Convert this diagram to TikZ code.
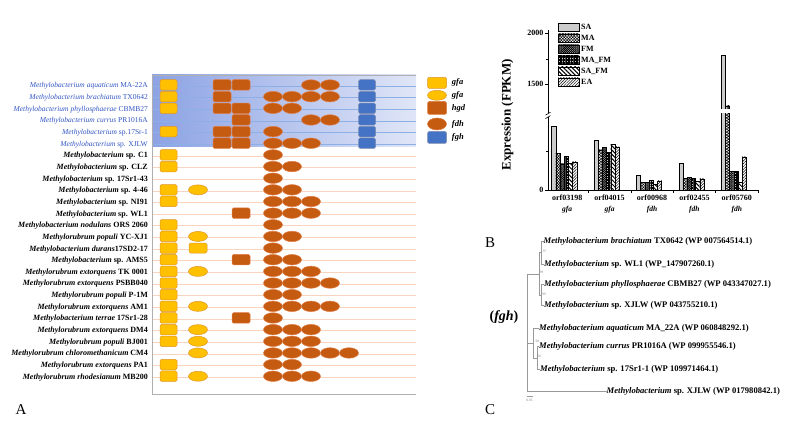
\documentclass[tikz,border=0pt]{standalone}
\usepackage{fontspec}
\setmainfont{Liberation Serif}
\usetikzlibrary{shapes.geometric,patterns.meta,positioning}

\definecolor{gfaYellow}{RGB}{255,192,0}
\definecolor{gfaEdge}{RGB}{222,150,40}
\definecolor{hgdBrown}{RGB}{197,90,17}
\definecolor{brownEdge}{RGB}{225,125,70}
\definecolor{fghBlue}{RGB}{68,114,196}
\definecolor{fghEdge}{RGB}{125,140,175}
\definecolor{labelBlue}{RGB}{50,85,195}
\definecolor{bandLeft}{RGB}{140,162,228}
\definecolor{bandRight}{RGB}{224,230,247}
\definecolor{rowBlue}{RGB}{140,175,230}
\definecolor{rowOrange}{RGB}{248,212,190}
\definecolor{frameGray}{RGB}{175,175,175}

\newcommand{\gn}[1]{\textit{#1}}

\begin{document}
\begin{tikzpicture}[x=1pt,y=-1pt,
    gene/.style={draw, line width=0.5pt, inner sep=0pt, minimum width=17pt, minimum height=10.5pt},
    gfabox/.style={gene, rectangle, rounded corners=1.5pt, fill=gfaYellow, draw=gfaEdge},
    gfaoval/.style={gene, ellipse, minimum width=19pt, minimum height=10pt, fill=gfaYellow, draw=gfaEdge},
    hgdbox/.style={gene, rectangle, rounded corners=1.5pt, minimum width=18pt, fill=hgdBrown, draw=brownEdge},
    fdhoval/.style={gene, ellipse, minimum width=19pt, fill=hgdBrown, draw=brownEdge},
    fghbox/.style={gene, rectangle, rounded corners=1.5pt, fill=fghBlue, draw=fghEdge},
    strainblue/.style={anchor=east, inner sep=0pt, text=labelBlue, font=\fontsize{7.5}{9}\selectfont},
    strainblack/.style={anchor=east, inner sep=0pt, font=\bfseries\fontsize{8}{9}\selectfont},
    keytext/.style={inner sep=0pt, font=\bfseries\itshape\fontsize{8.5}{10}\selectfont},
    panel/.style={inner sep=0pt, font=\fontsize{15}{17}\selectfont},
    bar/.style={draw, line width=0.4pt},
    barSA/.style={bar, fill=gray!40},
    barMA/.style={bar, preaction={fill=white}, pattern={Hatch[angle=45,distance=2pt,line width=0.5pt]}},
    barFM/.style={bar, preaction={fill=gray!55}, pattern={Hatch[angle=45,distance=1.5pt,line width=0.5pt]}},
    barMAFM/.style={bar, preaction={fill=gray!45}, pattern={Hatch[angle=0,distance=1.6pt,line width=0.4pt]}},
    barSAFM/.style={bar, preaction={fill=white}, pattern={Lines[angle=-45,distance=3pt,line width=1pt]}},
    barEA/.style={bar, preaction={fill=white}, pattern={Lines[angle=45,distance=2pt,line width=0.5pt]}},
    chart/.style={inner sep=0pt, font=\bfseries\fontsize{8}{9}\selectfont},
    leaf/.style={anchor=west, inner sep=0pt, font=\bfseries\fontsize{8.6}{10}\selectfont},
    boot/.style={inner sep=0pt, text=gray, font=\fontsize{3.5}{4}\selectfont},
    branch/.style={draw=gray!80, line width=0.5pt}]
  \useasboundingbox (0,0) rectangle (796,446);

  % A: gene organisation
  \shade[left color=bandLeft, right color=bandRight] (152,75) rectangle (416,147);
  \foreach \r in {1,...,26} {
    \pgfmathsetmacro\ry{86+11.65*(\r-1)}
    \ifnum\r<7 \def\lc{rowBlue}\else\def\lc{rowOrange}\fi
    \draw[\lc, line width=0.6pt] (152,\ry) -- (416,\ry);
  }
  \draw[frameGray, line width=0.5pt] (152,75) -- (416,75);
  \draw[frameGray, line width=1pt] (152,75) -- (152,395) -- (416,395);

  \foreach \r/\txt in {1/{\gn{Methylobacterium aquaticum} MA-22A},
      2/{\gn{Methylobacterium brachiatum} TX0642},
      3/{\gn{Methylobacterium phyllosphaerae} CBMB27},
      4/{\gn{Methylobacterium currus} PR1016A},
      5/{\gn{Methylobacterium} sp.17Sr-1},
      6/{\gn{Methylobacterium} sp. XJLW}}
    \node[strainblue] (lbl\r) at (148,{86+11.65*(\r-1)}) {\txt};
  \foreach \r/\txt in {7/{\gn{Methylobacterium} sp. C1},
      8/{\gn{Methylobacterium} sp. CLZ},
      9/{\gn{Methylobacterium} sp. 17Sr1-43},
      10/{\gn{Methylobacterium} sp. 4-46},
      11/{\gn{Methylobacterium} sp. NI91},
      12/{\gn{Methylobacterium} sp. WL1},
      13/{\gn{Methylobacterium nodulans} ORS 2060},
      14/{\gn{Methylorubrum populi} YC-XJ1},
      15/{\gn{Methylobacterium durans}17SD2-17},
      16/{\gn{Methylobacterium} sp. AMS5},
      17/{\gn{Methylorubrum extorquens} TK 0001},
      18/{\gn{Methylorubrum extorquens} PSBB040},
      19/{\gn{Methylorubrum populi} P-1M},
      20/{\gn{Methylorubrum extorquens} AM1},
      21/{\gn{Methylobacterium terrae} 17Sr1-28},
      22/{\gn{Methylorubrum extorquens} DM4},
      23/{\gn{Methylorubrum populi} BJ001},
      24/{\gn{Methylorubrum chloromethanicum} CM4},
      25/{\gn{Methylorubrum extorquens} PA1},
      26/{\gn{Methylorubrum rhodesianum} MB200}}
    \node[strainblack] (lbl\r) at (148,{86+11.65*(\r-1)}) {\txt};

  \foreach \r in {1,2,3,5,7,8,10,11,13,14,15,16,17,18,19,20,21,22,23,25,26}
    \node[gfabox] (gfa\r) at (168.5,{85+11.65*(\r-1)}) {};
  \foreach \r in {10,14,17,20,22,23,24,26}
    \node[gfaoval] (gfb\r) at (198,{85+11.65*(\r-1)}) {};
  \node[gfabox, minimum width=18pt, minimum height=10pt] (gfb15) at (198,{85+11.65*14}) {};
  \foreach \r in {1,2,3,5,6}
    \node[hgdbox] (hgdA\r) at (222,{85+11.65*(\r-1)}) {};
  \foreach \r in {1,3,4,5,6,12,16,21}
    \node[hgdbox] (hgdB\r) at (241,{85+11.65*(\r-1)}) {};
  \foreach \r/\a/\b in {1/7/8, 2/5/8, 3/5/6, 4/7/8, 5/5/5, 6/5/7, 7/5/5, 8/5/6, 9/5/5,
      10/5/6, 11/5/7, 12/5/7, 13/5/5, 14/5/6, 15/5/5, 16/5/6, 17/5/7, 18/5/8,
      19/5/6, 20/5/8, 21/5/5, 22/5/7, 23/5/7, 24/5/9, 25/5/6, 26/5/7}
    \foreach \c in {\a,...,\b}
      \node[fdhoval] (fdh\r-\c) at ({273+19*(\c-5)},{85+11.65*(\r-1)}) {};
  \foreach \r in {1,...,6}
    \node[fghbox] (fgh\r) at (367,{85+11.65*(\r-1)}) {};

  \node[gfabox, minimum width=19pt, minimum height=11pt] (keyGfaA) at (437,82.8) {};
  \node[gfaoval] (keyGfaB) at (437,95.3) {};
  \node[hgdbox, minimum width=19pt, minimum height=13pt] (keyHgd) at (437,108) {};
  \node[fdhoval, minimum height=12pt] (keyFdh) at (437,124) {};
  \node[fghbox, minimum width=19pt, minimum height=12pt] (keyFgh) at (437,137.5) {};
  \node[keytext, right=5pt of keyGfaA] (tGfaA) {gfa};
  \node[keytext, right=5pt of keyGfaB] (tGfaB) {gfa};
  \node[keytext, right=5pt of keyHgd] (tHgd) {hgd};
  \node[keytext, right=5pt of keyFdh] (tFdh) {fdh};
  \node[keytext, right=5pt of keyFgh] (tFgh) {fgh};

  \node[panel] (labA) at (21,410) {A};

  % B: expression
  \coordinate (yTop) at (548,30);
  \coordinate (org) at (548,190);
  \coordinate (xEnd) at (758,190);
  \foreach \g/\h in {0/126, 1/140, 2/175, 3/163.3, 4/55}
    \draw[barSA] ({551.5+42.4*\g},190) rectangle ({555.7+42.4*\g},\h);
  \foreach \g/\h in {0/153.3, 1/150, 2/182.3, 3/178.3, 4/106}
    \draw[barMA] ({555.7+42.4*\g},190) rectangle ({559.9+42.4*\g},\h);
  \foreach \g/\h in {0/164, 1/147.7, 2/182.7, 3/177.3, 4/171.7}
    \draw[barFM] ({559.9+42.4*\g},190) rectangle ({564.1+42.4*\g},\h);
  \foreach \g/\h in {0/156, 1/152.7, 2/180.3, 3/178, 4/171.7}
    \draw[barMAFM] ({564.1+42.4*\g},190) rectangle ({568.3+42.4*\g},\h);
  \foreach \g/\h in {0/163.3, 1/144.3, 2/184.3, 3/181.7, 4/182.3}
    \draw[barSAFM] ({568.3+42.4*\g},190) rectangle ({572.5+42.4*\g},\h);
  \foreach \g/\h in {0/162, 1/147, 2/181, 3/179, 4/157}
    \draw[barEA] ({572.5+42.4*\g},190) rectangle ({576.7+42.4*\g},\h);
  \fill[white] (719,109.5) rectangle (730,113);

  \draw[line width=0.7pt] (yTop) -- (org) -- (xEnd);
  \foreach \y/\t in {33.3/2000, 84.3/1500, 190/0} {
    \draw[line width=0.6pt] (548,\y) -- (545,\y);
    \node[chart, anchor=east] at (543.5,\y) {\t};
  }
  \foreach \y in {59.3,151.7}
    \draw[line width=0.6pt] (548,\y) -- (546.3,\y);
  \fill[white] (545,113.5) rectangle (551,117.5);
  \draw[line width=0.6pt] (545.5,115.2) -- (550.5,112.2);
  \draw[line width=0.6pt] (545.5,118.6) -- (550.5,115.6);
  \foreach \g in {1,...,5}
    \draw[line width=0.6pt] ({546+42.4*\g},190) -- ++(0,3);
  \foreach \g/\orf/\gnm in {0/orf03198/gfa, 1/orf04015/gfa, 2/orf00968/fdh, 3/orf02455/fdh, 4/orf05760/fdh} {
    \node[chart] (orf\g) at ({567.2+42.4*\g},197.8) {\orf};
    \node[chart, font=\bfseries\itshape\fontsize{7.5}{9}\selectfont] (gn\g) at ({567.2+42.4*\g},209.5) {\gnm};
  }
  \draw[barSA] (558,23) rectangle (579,31);
  \draw[barMA] (558,34) rectangle (579,42);
  \draw[barFM] (558,45) rectangle (579,53);
  \draw[barMAFM] (558,56) rectangle (579,64);
  \draw[barSAFM] (558,67) rectangle (579,75);
  \draw[barEA] (558,78) rectangle (579,86);
  \node[chart, anchor=west] (kSA) at (581,27) {SA};
  \node[chart, anchor=west] (kMA) at (581,38) {MA};
  \node[chart, anchor=west] (kFM) at (581,49) {FM};
  \node[chart, anchor=west] (kMAFM) at (581,60) {MA\_FM};
  \node[chart, anchor=west] (kSAFM) at (581,71) {SA\_FM};
  \node[chart, anchor=west] (kEA) at (581,82) {EA};
  \node[chart, rotate=90, font=\bfseries\fontsize{13}{15}\selectfont] (ylab) at (507.5,115) {Expression (FPKM)};

  \node[panel] (labB) at (490,243) {B};

  % C: fgh tree
  \node[leaf] (t1) at (543.5,241.5) {\gn{Methylobacterium brachiatum} TX0642 (WP 007564514.1)};
  \node[leaf] (t2) at (544,264) {\gn{Methylobacterium} sp. WL1 (WP\_147907260.1)};
  \node[leaf] (t3) at (544,284.3) {\gn{Methylobacterium phyllosphaerae} CBMB27 (WP 043347027.1)};
  \node[leaf] (t4) at (544,305.7) {\gn{Methylobacterium} sp. XJLW (WP 043755210.1)};
  \node[leaf] (t5) at (539,328.3) {\gn{Methylobacterium aquaticum} MA\_22A (WP 060848292.1)};
  \node[leaf] (t6) at (539,346.7) {\gn{Methylobacterium currus} PR1016A (WP 099955546.1)};
  \node[leaf] (t7) at (540,369.3) {\gn{Methylobacterium} sp. 17Sr1-1 (WP 109971464.1)};
  \node[leaf] (t8) at (606.5,391.7) {\gn{Methylobacterium} sp. XJLW (WP 017980842.1)};
  \coordinate (nA) at (541,252.7);
  \coordinate (nB) at (541.5,295);
  \coordinate (nAB) at (539.5,274);
  \coordinate (nC) at (537.5,358);
  \coordinate (nD) at (533.3,343);
  \coordinate (root) at (527,343);
  \foreach \source/\dest in {nA/t1.west, nA/t2.west, nB/t3.west, nB/t4.west, nAB/nA, nAB/nB,
      nC/t6.west, nC/t7.west, nD/t5.west, nD/nC, root/nAB, root/nD, root/t8.west}
    \draw[branch] (\source) |- (\dest);
  \node[boot] (bA) at (544.5,251.5) {97};
  \node[boot] (bAB) at (541.7,272.8) {99};
  \node[boot] (bB) at (544,294.5) {99};
  \node[boot] (bD) at (537.3,341.5) {98};
  \node[boot] (bC) at (539.3,356) {66};
  \coordinate (sbL) at (526.5,396.5);
  \coordinate (sbR) at (532.5,396.5);
  \draw[branch] (sbL) -- (sbR);
  \node[boot] (sbT) at (529.5,400) {0.05};
  \node[font=\bfseries\fontsize{14}{16}\selectfont] (fghTag) at (504,317.3) {(\textit{fgh})};

  \node[panel] (labC) at (490,410) {C};
\end{tikzpicture}
\end{document}
